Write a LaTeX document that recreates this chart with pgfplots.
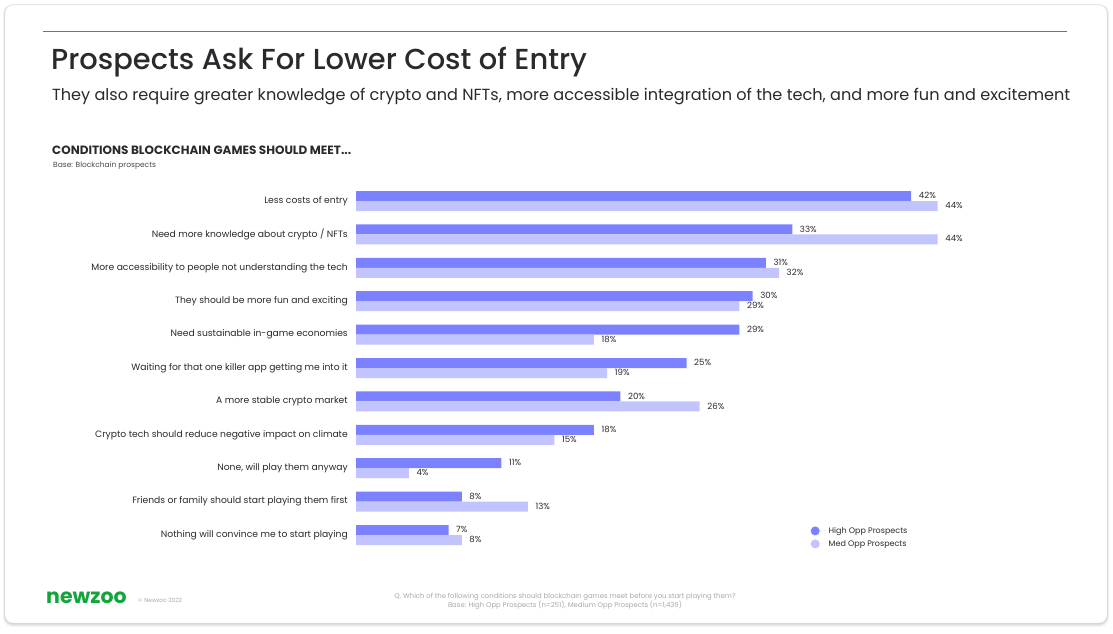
\documentclass[border=0pt]{standalone}
\usepackage{pgfplots}
\pgfplotsset{compat=1.18}
\usepackage{fontspec}
\setmainfont{Poppins}
\IfFontExistsTF{Poppins Medium}
  {\newfontfamily\titlefont{Poppins Medium}}
  {\newfontfamily\titlefont{Poppins}}
\definecolor{highopp}{HTML}{7C82FF}
\definecolor{medopp}{HTML}{C1C4FF}
\definecolor{ink}{HTML}{2A2A2E}
\definecolor{soft}{HTML}{A8A8A8}
\definecolor{zoo}{HTML}{12A53C}
\newcommand{\fs}[1]{\fontsize{#1}{#1}\selectfont}
\begin{document}
\begin{tikzpicture}[x=1pt,y=1pt]
% page and card
\fill[white] (0,0) rectangle (1113,-633);
\foreach \o/\a in {4/0.03,3/0.04,2/0.05,1/0.06}{
  \fill[black,opacity=\a,rounded corners=9pt] (5-\o*0.5,-5+\o*0.2) rectangle (1107+\o*0.5,-623-\o);
}
\draw[rounded corners=8pt, draw=black!10, fill=white] (5,-5) rectangle (1107,-623);
\draw[black!55, line width=0.9pt] (43,-31) -- (1067,-31);
% headings
\node[anchor=base west, inner sep=0pt, text=ink] at (51,-69.5) {\titlefont\fs{28.9}Prospects Ask For Lower Cost of Entry};
\node[anchor=base west, inner sep=0pt, text=ink] at (52,-100) {\fs{16.1}They also require greater knowledge of crypto and NFTs, more accessible integration of the tech, and more fun and excitement};
\node[anchor=base west, inner sep=0pt, text=ink] at (52,-154) {\fs{12}\bfseries CONDITIONS BLOCKCHAIN GAMES SHOULD MEET...};
\node[anchor=base west, inner sep=0pt, text=ink!85] at (53,-167) {\fs{7.5}Base: Blockchain prospects};
% footer
\node[anchor=base west, inner sep=0pt, text=zoo] at (46,-603) {\fs{20.5}\bfseries newzoo};
\node[anchor=base west, inner sep=0pt, text=soft] at (138,-602) {\fs{5.8}\textcopyright{} Newzoo 2022};
\node[align=center, inner sep=0pt, text=soft, font=\fontsize{6.9}{8}\selectfont] at (565,-601) {Q. Which of the following conditions should blockchain games meet before you start playing them?\\Base: High Opp Prospects (n=251), Medium Opp Prospects (n=1,436)};
% bars
\begin{axis}[
  scale only axis,
  width=661pt, height=367.4pt,
  anchor=south west, at={(356pt,-551.7pt)},
  xmin=0, xmax=50, ymin=-0.5, ymax=10.5,
  xbar, bar width=10pt,
  axis line style={draw=none},
  xtick=\empty,
  ytick={0,...,10},
  major tick length=0pt,
  yticklabels={
    Nothing will convince me to start playing,
    Friends or family should start playing them first,
    {None, will play them anyway},
    Crypto tech should reduce negative impact on climate,
    A more stable crypto market,
    Waiting for that one killer app getting me into it,
    Need sustainable in-game economies,
    They should be more fun and exciting,
    More accessibility to people not understanding the tech,
    Need more knowledge about crypto / NFTs,
    Less costs of entry},
  yticklabel style={font=\fs{9.2}, text=ink, inner sep=0pt, xshift=-8pt},
  clip=false,
  /pgf/number format/assume math mode=true,
  nodes near coords={\pgfmathprintnumber[assume math mode=true]{\pgfplotspointmeta}\%},
  every node near coord/.append style={font=\fs{8.6}, text=ink, anchor=west, inner sep=0pt, xshift=7.5pt, yshift=0.5pt},
  legend style={draw=none, fill=none, at={(0.6876,0.039)}, anchor=west, font=\fs{8}, text=ink, row sep=1.5pt, inner sep=0pt},
  legend cell align=left,
  legend image code/.code={\fill[#1] (0,0) circle (4.5pt); \path (0,0) -- (11.5pt,0);},
]
\addplot[fill=highopp, draw=none, bar shift=5pt] coordinates {
  (42,10) (33,9) (31,8) (30,7) (29,6) (25,5) (20,4) (18,3) (11,2) (8,1) (7,0)};
\addplot[fill=medopp, draw=none, bar shift=-5pt] coordinates {
  (44,10) (44,9) (32,8) (29,7) (18,6) (19,5) (26,4) (15,3) (4,2) (13,1) (8,0)};
\legend{High Opp Prospects, Med Opp Prospects}
\end{axis}
\end{tikzpicture}
\end{document}
